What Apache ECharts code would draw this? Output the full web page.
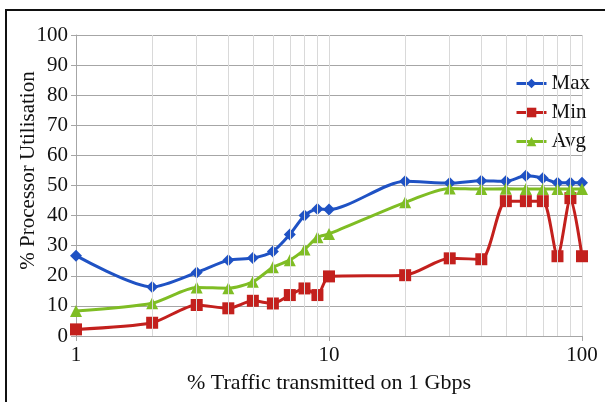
<!DOCTYPE html>
<html>
<head>
<meta charset="utf-8">
<script src="https://cdn.jsdelivr.net/npm/echarts@6/dist/echarts.min.js"></script>
<style>
  html, body { margin: 0; padding: 0; background: #fff; }
  #frame {
    position: absolute; left: 5px; top: 9px; width: 610px; height: 400px;
    border: 2px solid #111; box-sizing: border-box;
  }
  #chart { position: absolute; left: 0; top: 0; width: 605px; height: 402px; }
</style>
</head>
<body>
<div id="frame"></div>
<div id="chart"></div>
<script>
// % traffic on 1 Gbps (log scale)
const traffic = [1, 2, 3, 4, 5, 6, 7, 8, 9, 10, 20, 30, 40, 50, 60, 70, 80, 90, 100]
const maxUtil = [26.7, 16.3, 21.1, 25.2, 25.9, 28.1, 33.7, 40, 42.2, 42, 51.4, 50.8, 51.6, 51.4, 53.2, 52.4, 50.9, 50.9, 50.9]
const minUtil = [2.2, 4.4, 10.3, 9.2, 11.7, 10.8, 13.6, 15.8, 13.6, 19.8, 20.2, 25.8, 25.5, 44.8, 44.8, 44.8, 26.5, 45.8, 26.5]
const avgUtil = [8.3, 10.9, 16.1, 15.9, 18, 22.8, 25.2, 28.7, 32.8, 33.9, 44.4, 49, 48.8, 48.9, 48.8, 48.8, 48.8, 48.8, 48.8]
const yTicks = [0, 10, 20, 30, 40, 50, 60, 70, 80, 90, 100]
// log minor grid positions
const minorX = [2, 3, 4, 5, 6, 7, 8, 9, 20, 30, 40, 50, 60, 70, 80, 90]

const font = '"Liberation Serif", "Times New Roman", serif'
const pairs = arr => traffic.map((x, i) => [x, arr[i]])

const chart = echarts.init(document.getElementById('chart'))

chart.setOption({
  animation: false,
  textStyle: { fontFamily: font },
  grid: { left: 76, right: 23, top: 35, bottom: 66, outerBoundsMode: 'none', containLabel: false },
  legend: {
    orient: 'vertical',
    right: 10,
    top: 68,
    itemWidth: 30,
    itemHeight: 12,
    itemGap: 8,
    lineStyle: { width: 3 },
    textStyle: { fontFamily: font, fontSize: 21, color: '#111' },
    data: ['Max', 'Min', 'Avg'],
  },
  xAxis: {
    type: 'log',
    logBase: 10,
    min: 1,
    max: 100,
    name: '% Traffic transmitted on 1 Gbps',
    nameLocation: 'middle',
    nameGap: 36,
    nameMoveOverlap: false,
    nameTextStyle: { fontFamily: font, fontSize: 22, color: '#111' },
    axisLine: { lineStyle: { color: '#a6a6a6', width: 1 } },
    axisTick: { show: true, length: 5, lineStyle: { color: '#a6a6a6' } },
    axisLabel: { fontFamily: font, fontSize: 21, color: '#111', margin: 9 },
    splitLine: { show: true, lineStyle: { color: '#d9d9d9' } },
  },
  yAxis: {
    type: 'value',
    min: 0,
    max: 100,
    interval: 10,
    name: '% Processor Utilisation',
    nameLocation: 'middle',
    nameGap: 37,
    nameMoveOverlap: false,
    nameTextStyle: { fontFamily: font, fontSize: 21, color: '#111', padding: [0, 0, 0, 30] },
    axisLine: { show: true, lineStyle: { color: '#a6a6a6' } },
    axisTick: { show: true, length: 5, lineStyle: { color: '#a6a6a6' } },
    axisLabel: {
      fontFamily: font, fontSize: 21, color: '#111', margin: 8,
      formatter: v => (yTicks.includes(v) ? String(v) : ''),
    },
    splitLine: { lineStyle: { color: '#a6a6a6' } },
  },
  series: [
    {
      // light vertical grid lines at the log minor positions
      name: 'grid',
      type: 'line',
      data: [],
      silent: true,
      markLine: {
        silent: true,
        symbol: ['none', 'none'],
        label: { show: false },
        lineStyle: { color: '#d9d9d9', type: 'solid', width: 1 },
        data: minorX.map(x => ({ xAxis: x })),
      },
    },
    {
      name: 'Max',
      type: 'line',
      data: pairs(maxUtil),
      smooth: 0.25,
      symbol: 'diamond',
      symbolSize: 12,
      lineStyle: { color: '#1f52c4', width: 3 },
      itemStyle: { color: '#1f52c4' },
    },
    {
      name: 'Min',
      type: 'line',
      data: pairs(minUtil),
      smooth: 0.25,
      symbol: 'rect',
      symbolSize: 12,
      lineStyle: { color: '#c3201d', width: 3 },
      itemStyle: { color: '#c3201d' },
    },
    {
      name: 'Avg',
      type: 'line',
      data: pairs(avgUtil),
      smooth: 0.25,
      symbol: 'triangle',
      symbolSize: 12,
      lineStyle: { color: '#7fbd24', width: 3 },
      itemStyle: { color: '#7fbd24' },
    },
  ],
})
</script>
</body>
</html>
